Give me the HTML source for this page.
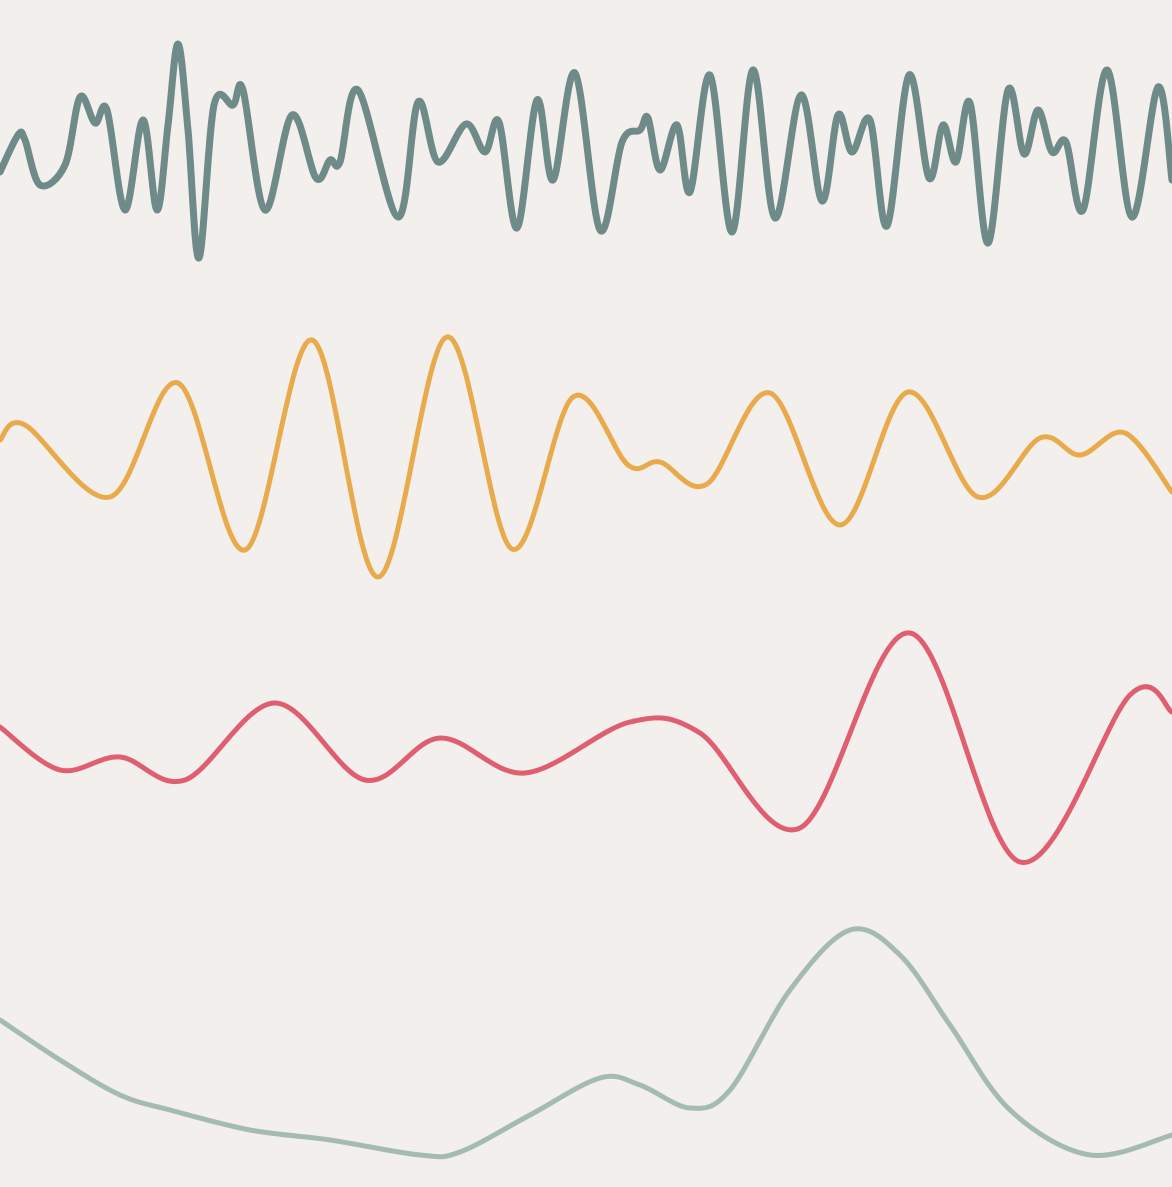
<!DOCTYPE html>
<html><head><meta charset="utf-8"><style>
html,body{margin:0;padding:0;background:#f3efec;}
svg{display:block}
</style></head><body>
<svg id="chart" width="1172" height="1187" viewBox="0 0 1172 1187">
<rect width="1172" height="1187" fill="#f3efec"/>
<g id="lines"></g>
</svg>
<script>
const s1x=[0,18,25,40,65,80,95,107,125,143,157,168,178,188,199,214,233,243,265,292,316,330,340,358,398,418,438,466,485,499,517,537,553,575,600,622,640,648,660,677,690,710,732,753,775,801,822,838,852,870,887,909,929,943,956,970,988,1008,1024,1038,1052,1066,1083,1107,1132,1158,1172];
const s1y=[172,135,140,185,165,97,123,110,210,120,210,125,44,130,258,105,105,90,210,115,178,160,162,90,217,102,162,124,152,122,228,100,180,73,230,142,130,118,170,125,192,75,232,70,218,95,201,115,152,120,226,75,178,125,162,103,243,90,154,110,152,142,210,70,217,87,180];
const s2x=[0,25,110,178,245,312,378,447,512,573,628,660,707,770,840,908,978,1040,1080,1125,1172];
const s2y=[440,425,497,383,550,340,577,337,549,397,465,462,484,393,525,392,497,438,455,433,492];
const s3x=[0,60,120,185,275,365,440,525,630,700,800,910,1020,1130,1172];
const s3y=[727,770,757,780,703,780,738,773,722,733,828,633,862,695,712];
const s4x=[0,60,120,170,250,330,420,460,530,600,640,690,730,790,850,900,950,1010,1090,1172];
const s4y=[1020,1060,1095,1110,1130,1140,1155,1152,1115,1078,1085,1108,1090,990,930,955,1025,1110,1155,1135];
const xScale=v=>v*(1172/1172);
const yScale=v=>v*(1187/1187);
function pathFor(xs,ys){
  const p=xs.map((x,i)=>[xScale(x),yScale(ys[i])]);
  let d=`M${p[0][0]},${p[0][1]}`;
  for(let i=0;i<p.length-1;i++){
    const a=p[Math.max(i-1,0)],b=p[i],c=p[i+1],e=p[Math.min(i+2,p.length-1)];
    const c1=[b[0]+(c[0]-a[0])/6,b[1]+(c[1]-a[1])/6];
    const c2=[c[0]-(e[0]-b[0])/6,c[1]-(e[1]-b[1])/6];
    d+=`C${c1[0]},${c1[1]} ${c2[0]},${c2[1]} ${c[0]},${c[1]}`;
  }
  return d;
}
const g=document.getElementById('lines');
const series=[[s1x,s1y,'#6e8b8a',7,'series-dark-teal'],[s2x,s2y,'#e9aa4c',5,'series-orange'],[s3x,s3y,'#df5f71',5,'series-red'],[s4x,s4y,'#a4bbb3',5,'series-sage']];
series.forEach(s=>{
  const el=document.createElementNS('http://www.w3.org/2000/svg','path');
  el.setAttribute('d',pathFor(s[0],s[1]));
  el.setAttribute('fill','none');
  el.setAttribute('stroke',s[2]);
  el.setAttribute('stroke-width',s[3]);
  el.setAttribute('stroke-linejoin','round');
  el.setAttribute('stroke-linecap','round');
  
  
  g.appendChild(el);
});
</script>
</body></html>
